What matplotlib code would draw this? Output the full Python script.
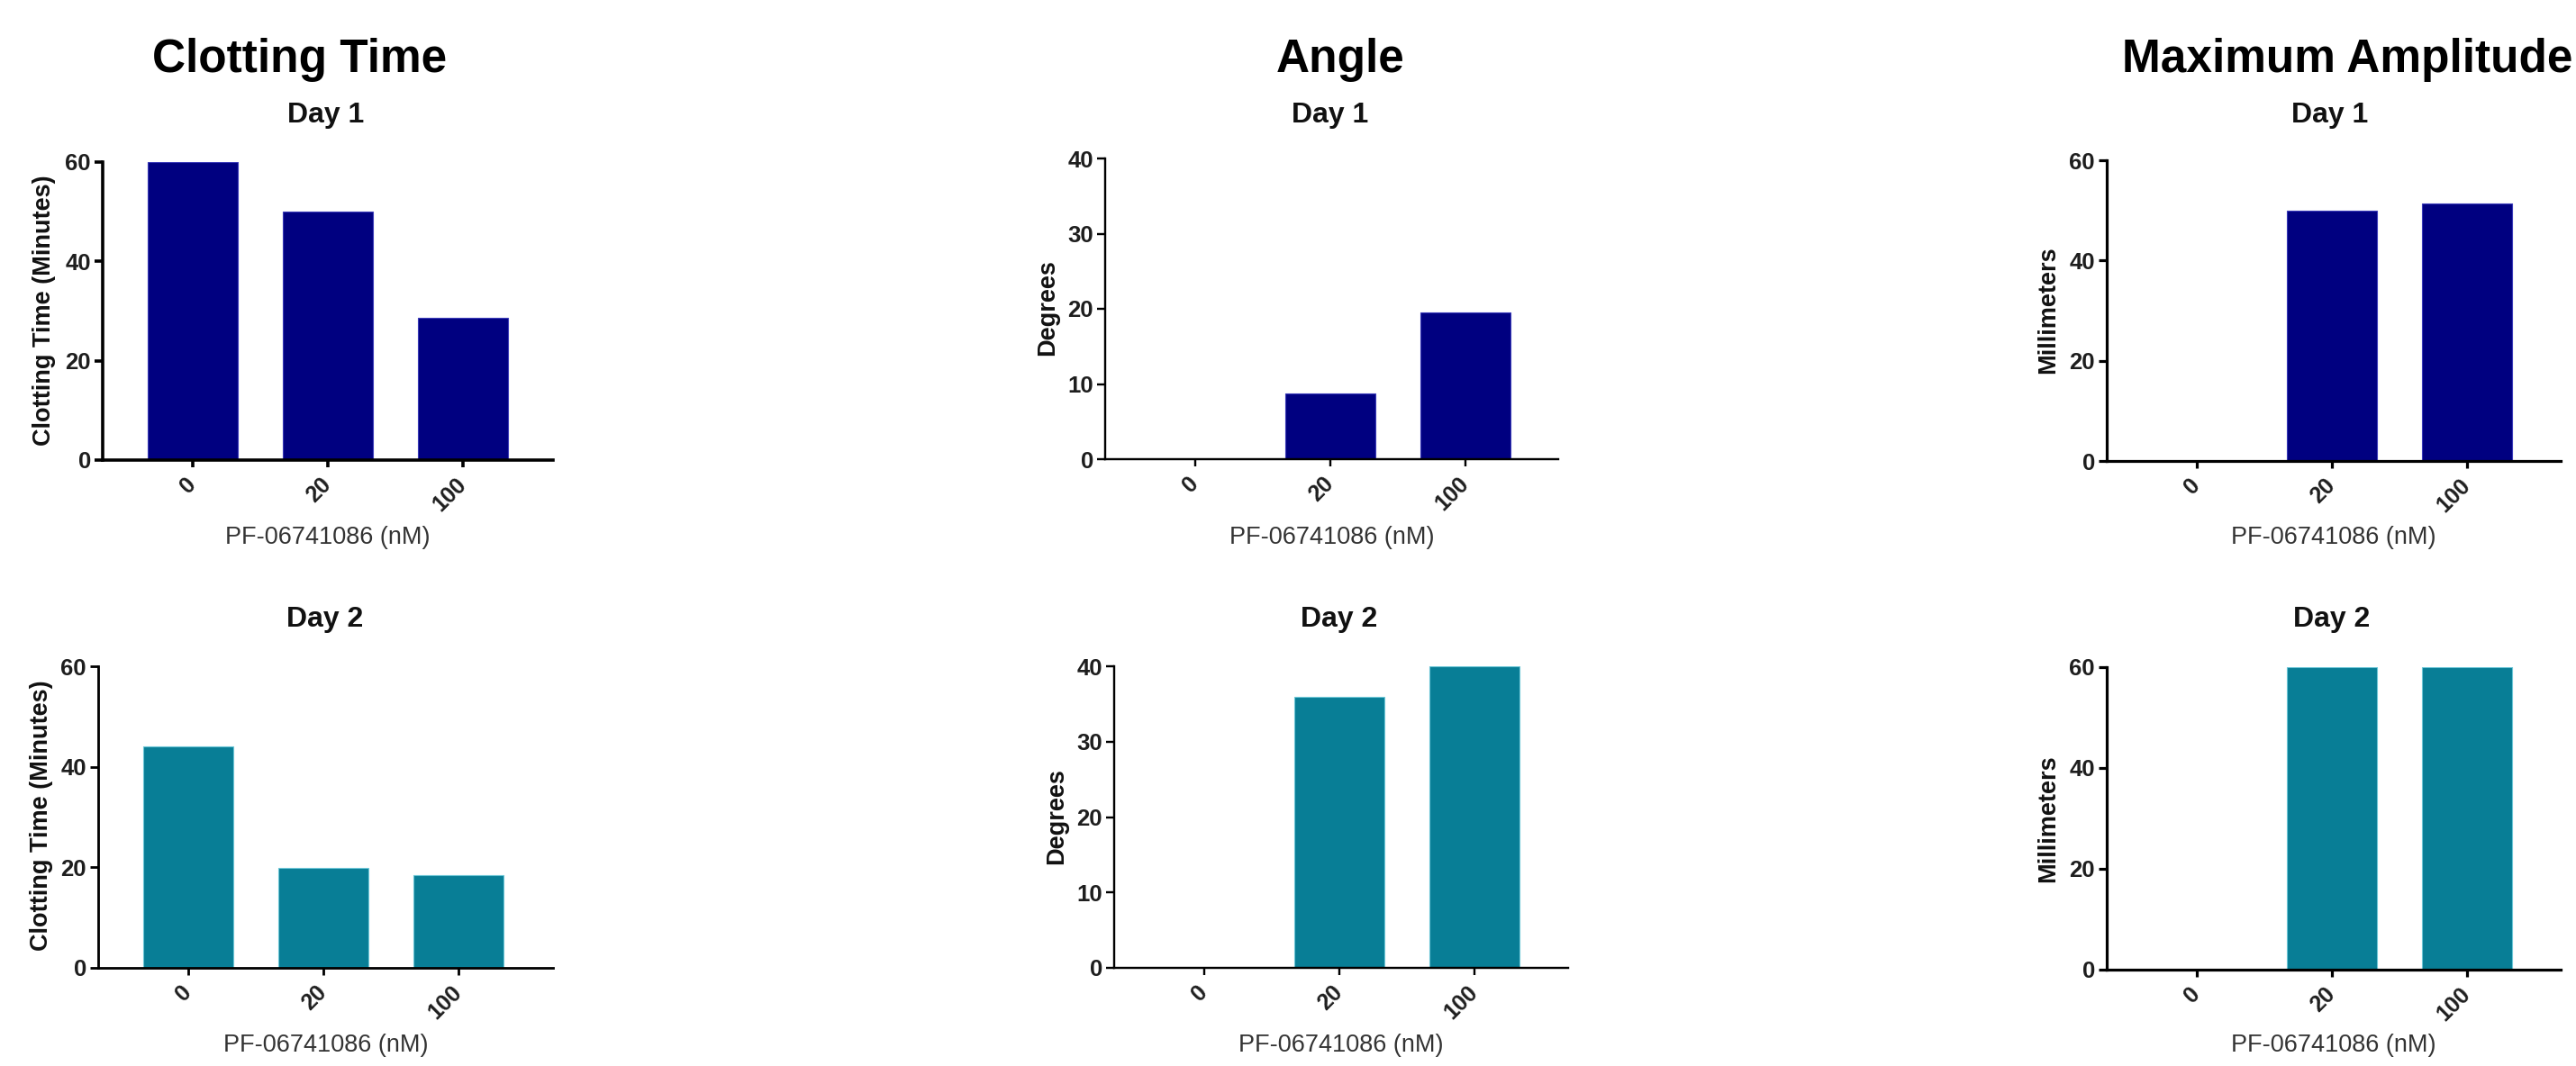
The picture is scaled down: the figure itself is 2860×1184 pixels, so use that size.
import matplotlib
matplotlib.use("Agg")
import matplotlib.pyplot as plt

# ---- data ----
categories = ["0", "20", "100"]
ct_day1 = [60.0, 50.0, 28.6]
ct_day2 = [44.0, 19.9, 18.5]
angle_day1 = [0.0, 8.7, 19.5]
angle_day2 = [0.0, 36.0, 40.0]
ma_day1 = [0.0, 50.0, 51.4]
ma_day2 = [0.0, 60.0, 60.0]

group_titles = ["Clotting Time", "Angle", "Maximum Amplitude"]
ylabels = ["Clotting Time (Minutes)", "Degrees", "Millimeters"]
day_titles = ["Day 1", "Day 2"]
xlabel = "PF-06741086 (nM)"
ct_ticks = [0, 20, 40, 60]
angle_ticks = [0, 10, 20, 30, 40]
ma_ticks = [0, 20, 40, 60]

W, H = 2860, 1184
DPI = 100
fig = plt.figure(figsize=(W / DPI, H / DPI), dpi=DPI)
fig.patch.set_facecolor("white")

NARROW = ["Liberation Sans Narrow", "Liberation Sans", "DejaVu Sans"]
SANS = ["Liberation Sans", "DejaVu Sans"]

col1 = "#000080"
edge1 = "#3a3ab8"
col2 = "#087E96"
edge2 = "#6cc6d6"


def fx(px):
    return px / W


def fy(py):
    return 1 - py / H


# panel specs: (left, right, top, bottom) px, values, ticks, ylabel, spine width px, ylabel centre (x, y), day title (x, baseline y), color, edge
panels = [
    ((114, 614, 180, 511), ct_day1, ct_ticks, ylabels[0], 3.6, (49, 345), (362, 136), col1, edge1),
    ((109, 614, 740, 1075), ct_day2, ct_ticks, ylabels[0], 2.8, (46, 906), (361, 696), col2, edge2),
    ((1227, 1730, 176, 510), angle_day1, angle_ticks, ylabels[1], 2.4, (1163, 342), (1477, 136), col1, edge1),
    ((1237, 1741, 740, 1075), angle_day2, angle_ticks, ylabels[1], 2.4, (1173, 907), (1487, 696), col2, edge2),
    ((2339, 2843, 178, 512), ma_day1, ma_ticks, ylabels[2], 3.2, (2274, 344), (2587, 136), col1, edge1),
    ((2339, 2843, 741, 1077), ma_day2, ma_ticks, ylabels[2], 3.2, (2274, 909), (2589, 696), col2, edge2),
]

for i, ((l, r, t, b), vals, ticks, ylab, lwpx, ylc, dtc, fc, ec) in enumerate(panels):
    ax = fig.add_axes([fx(l), fy(b), fx(r - l), (b - t) / H])
    width_px = r - l
    unit = 150.0
    x0 = 100.0
    ax.set_xlim(-x0 / unit, (width_px - x0) / unit)
    ax.set_ylim(0, ticks[-1])
    xs = list(range(len(categories)))
    ax.bar(xs, vals, width=100.0 / unit, color=fc, edgecolor=ec, linewidth=0.8, zorder=2)
    lw = lwpx * 72 / DPI
    for s in ["top", "right"]:
        ax.spines[s].set_visible(False)
    for s in ["left", "bottom"]:
        ax.spines[s].set_linewidth(lw)
        ax.spines[s].set_color("black")
        ax.spines[s].set_zorder(3)
    ax.set_yticks(ticks)
    ax.set_yticklabels([str(v) for v in ticks], family=NARROW, fontweight="bold",
                       fontsize=18.5, color="#1e1e1e")
    ax.set_xticks(xs)
    ax.set_xticklabels(categories, family=NARROW, fontweight="bold", fontsize=18,
                       color="#1e1e1e", rotation=45, ha="right", va="center",
                       rotation_mode="anchor")
    ax.tick_params(axis="y", length=6.5, width=lw, pad=3, direction="out")
    ax.tick_params(axis="x", length=6.0, width=lw, pad=11, direction="out")
    ax.patch.set_alpha(0)

    fig.text(fx(ylc[0]), fy(ylc[1]), ylab, rotation=90, ha="center", va="center",
             family=SANS, fontweight="bold", fontsize=19.5, color="#111111")
    fig.text(fx(dtc[0]), fy(dtc[1]), day_titles[i % 2], ha="center", va="baseline",
             family=SANS, fontweight="bold", fontsize=23, color="#111111")
    xlab_y = 597 if i % 2 == 0 else 1161
    fig.text(fx((l + r) / 2), fy(xlab_y), xlabel, ha="center", va="center",
             family=SANS, fontsize=19.5, color="#333333")

# group titles
for title, cx in zip(group_titles, [333, 1488, 2606]):
    fig.text(fx(cx), fy(80), title, ha="center", va="baseline", family=SANS,
             fontweight="bold", fontsize=37, color="black")

fig.savefig("out.png", dpi=DPI, facecolor="white")
